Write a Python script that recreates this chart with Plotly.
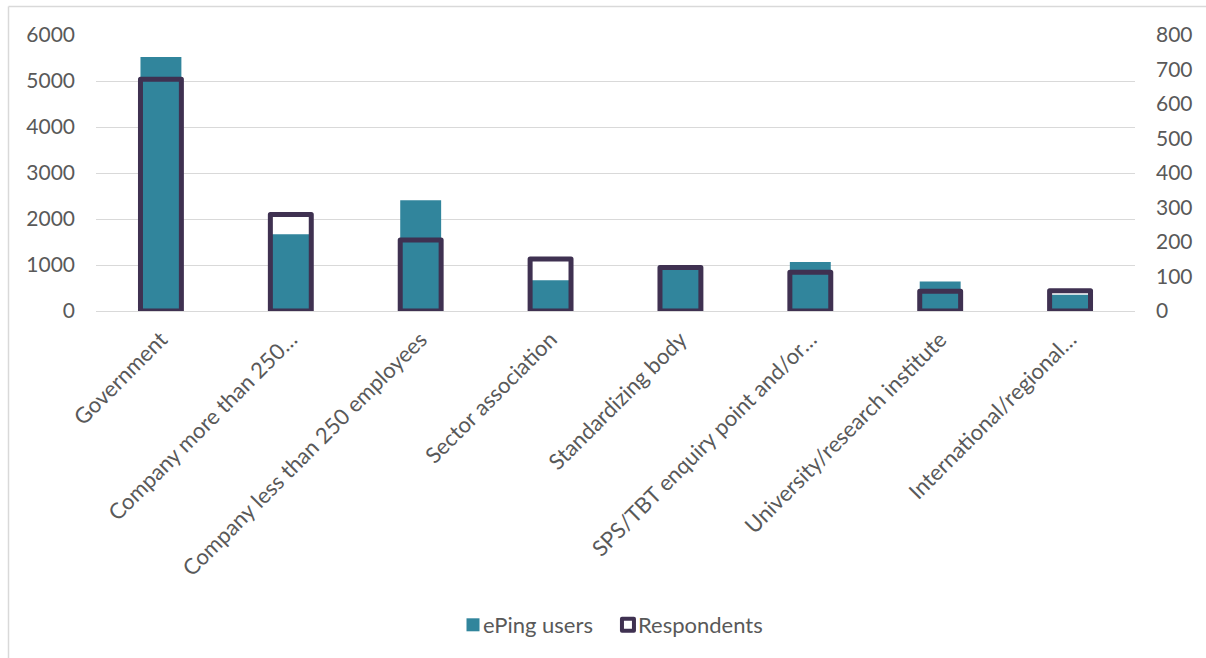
import plotly.graph_objects as go

# Organisation types and counts
categories = [
    "Government",
    "Company more than 250…",
    "Company less than 250 employees",
    "Sector association",
    "Standardizing body",
    "SPS/TBT enquiry point and/or…",
    "University/research institute",
    "International/regional…",
]
eping_users = [5520, 1670, 2410, 670, 930, 1065, 640, 355]
respondents = [672, 280, 206, 151, 126, 112, 57, 59]

left_ticks = [0, 1000, 2000, 3000, 4000, 5000, 6000]
right_ticks = [0, 100, 200, 300, 400, 500, 600, 700, 800]

TEAL = "#31859C"
PURPLE = "#3F3151"
GREY_TEXT = "#595959"
GRID = "#D9D9D9"
FONT = "Lato, 'Open Sans', sans-serif"

W, H = 1206, 658
ML, MR, MT, MB = 96, W - 1135, 35, H - 311
PW, PH = W - ML - MR, H - MT - MB

x = list(range(len(categories)))
BAR_W = 0.315

fig = go.Figure()

# white backing for the respondent boxes (hides gridlines inside them)
fig.add_trace(go.Bar(
    x=x, y=respondents, yaxis="y", width=BAR_W,
    marker=dict(color="white", line=dict(width=0)),
    showlegend=False, hoverinfo="skip", cliponaxis=False,
))
# ePing users on the left scale
fig.add_trace(go.Bar(
    x=x, y=eping_users, yaxis="y2", width=BAR_W, name="ePing users",
    marker=dict(color=TEAL, line=dict(width=0)),
    cliponaxis=False,
))
# respondents drawn as outlined boxes on the right scale
fig.add_trace(go.Bar(
    x=x, y=respondents, yaxis="y3", width=BAR_W, name="Respondents",
    marker=dict(color="rgba(255,255,255,0)", line=dict(width=5, color=PURPLE)),
    cliponaxis=False,
))

tickfont = dict(family=FONT, size=21, color=GREY_TEXT)

fig.update_layout(
    width=W, height=H,
    margin=dict(l=ML, r=MR, t=MT, b=MB, pad=0),
    paper_bgcolor="white", plot_bgcolor="white",
    barmode="overlay",
    font=dict(family=FONT, color=GREY_TEXT),
    xaxis=dict(
        range=[-0.5, len(categories) - 0.5],
        tickmode="array", tickvals=x, ticktext=categories,
        tickangle=-45, tickfont=dict(family=FONT, size=22, color=GREY_TEXT),
        showgrid=False, zeroline=False,
        showline=True, linecolor=GRID, linewidth=1,
        ticks="", ticklabelstandoff=6,
    ),
    yaxis=dict(
        range=[0, 800], side="right",
        tickmode="array", tickvals=right_ticks,
        tickfont=tickfont, showgrid=False, zeroline=False,
        ticks="", ticklabelstandoff=20,
    ),
    yaxis2=dict(
        range=[0, 6000], side="left", overlaying="y",
        tickmode="array", tickvals=left_ticks,
        tickfont=tickfont, showgrid=True, gridcolor=GRID, gridwidth=1,
        zeroline=False, ticks="", ticklabelstandoff=20,
    ),
    yaxis3=dict(range=[0, 800], overlaying="y", visible=False),
    legend=dict(
        orientation="h", x=0.5, xanchor="center",
        y=(311 - 625) / PH, yanchor="middle",
        font=dict(family=FONT, size=22, color=GREY_TEXT),
        itemsizing="constant",
    ),
    showlegend=True,
)

# chart frame (top and left edges)
def px_x(v):
    return (v - ML) / PW

def px_y(v):
    return (H - MB - v) / PH

frame = dict(type="line", xref="paper", yref="paper",
             line=dict(color=GRID, width=1.5), layer="below")
fig.add_shape(x0=px_x(8.5), x1=px_x(W + 5), y0=px_y(6.5), y1=px_y(6.5), **frame)
fig.add_shape(x0=px_x(8.5), x1=px_x(8.5), y0=px_y(6.5), y1=px_y(H + 5), **frame)

# rounded box corners, larger legend swatches, text closer to swatches
post_js = """
document.querySelectorAll('.bars path').forEach(function(p){p.style.strokeLinejoin='round';});
document.querySelectorAll('.legend .traces').forEach(function(t, i){
  var sw = t.querySelector('.legendpoints path');
  if (sw) {
    if (i === 1) {
      sw.setAttribute('d', 'M6,6H-6V-6H6Z');
      sw.style.strokeWidth = '4px';
      sw.style.strokeLinejoin = 'round';
      sw.style.fill = 'white';
    } else {
      sw.setAttribute('d', 'M6.5,6.5H-6.5V-6.5H6.5Z');
    }
  }
  var tx = t.querySelector('.legendtext');
  if (tx) { tx.setAttribute('x', 30); }
});
"""

fig.write_html("out.html", post_script=post_js)
